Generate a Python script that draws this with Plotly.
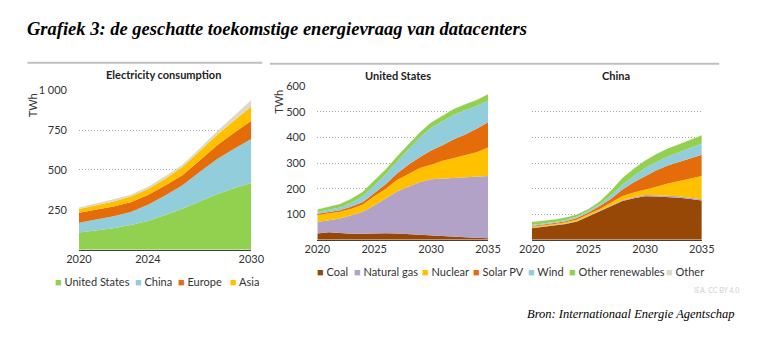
import plotly.graph_objects as go

W, H = 766, 343

# ---------------- data ----------------
left_years = list(range(2020, 2031))
left_series = ["United States", "China", "Europe", "Asia", "Other"]
left_us = [108, 120, 135, 155, 180, 218, 257, 302, 347, 385, 418]
left_china = [61, 68, 75, 82, 102, 122, 147, 185, 220, 248, 276]
left_europe = [62, 62, 61, 61, 61, 62, 63, 72, 86, 100, 114]
left_asia = [24, 28, 31, 35, 37, 43, 51, 58, 67, 77, 90]
left_other = [10, 12, 14, 12, 14, 15, 15, 18, 21, 30, 41]

years = list(range(2020, 2036))
sources = ["Coal", "Natural gas", "Nuclear", "Solar PV", "Wind", "Other renewables", "Other"]
us_coal = [25, 30, 27, 24, 24, 26, 26, 25, 22, 19, 18, 16, 13, 10, 8, 6]
us_gas = [45, 47, 56, 72, 86, 108, 134, 164, 186, 206, 219, 224, 229, 234, 239, 244]
us_nuclear = [27, 27, 27, 26, 28, 36, 39, 45, 51, 56, 57, 69, 78, 87, 95, 111]
us_solar = [5, 5, 6, 8, 10, 12, 18, 25, 35, 42, 55, 61, 73, 81, 92, 99]
us_wind = [7, 8, 10, 15, 22, 30, 38, 47, 61, 77, 89, 93, 96, 96, 89, 84]
us_otherren = [10, 12, 14, 16, 18, 20, 20, 20, 20, 20, 21, 21, 22, 22, 24, 25]
us_other = [1, 1, 1, 1, 1, 1, 1, 1, 1, 1, 1, 1, 1, 1, 1, 1]

cn_coal = [45, 50, 56, 62, 72, 92, 110, 132, 152, 163, 170, 169, 167, 165, 160, 154]
cn_gas = [2, 2, 2, 2, 2, 2, 3, 3, 3, 4, 5, 5, 5, 5, 5, 5]
cn_nuclear = [4, 4, 4, 5, 6, 7, 8, 11, 16, 18, 20, 34, 48, 60, 75, 91]
cn_solar = [3, 3, 4, 4, 5, 6, 11, 15, 26, 40, 55, 64, 71, 76, 80, 83]
cn_wind = [4, 4, 4, 5, 6, 7, 8, 13, 19, 25, 31, 32, 35, 36, 41, 44]
cn_otherren = [12, 11, 10, 9, 8, 7, 10, 19, 26, 28, 29, 32, 31, 32, 32, 32]
cn_other = [1, 1, 1, 1, 1, 1, 1, 1, 1, 1, 1, 1, 1, 1, 1, 1]

left_ticks_x = [2020, 2024, 2030]
left_ticks_y = [250, 500, 750, 1000]
left_ticktext_y = ["250", "500", "750", "1 000"]
right_ticks_x = [2020, 2025, 2030, 2035]
right_ticks_y = [100, 200, 300, 400, 500, 600]

# ---------------- styles ----------------
left_colors = ["#92D050", "#92CDDC", "#E46C0A", "#FFC000", "#DDD9C4"]
src_colors = ["#974806", "#B3A2C7", "#FFC000", "#E46C0A", "#92CDDC", "#92D050", "#DDD9C4"]
FONT = "Lato"
TXT = "#333333"


def px(x):
    return x / W


def py(y):
    return 1 - y / H


fig = go.Figure()

for name, vals, col in zip(left_series, [left_us, left_china, left_europe, left_asia, left_other], left_colors):
    fig.add_trace(go.Scatter(x=left_years, y=vals, name=name, mode="lines", stackgroup="left",
                             line=dict(width=0, color=col), fillcolor=col, showlegend=False,
                             xaxis="x", yaxis="y"))

for name, vals, col in zip(sources, [us_coal, us_gas, us_nuclear, us_solar, us_wind, us_otherren, us_other], src_colors):
    fig.add_trace(go.Scatter(x=years, y=vals, name=name, mode="lines", stackgroup="us",
                             line=dict(width=0, color=col), fillcolor=col, showlegend=False,
                             xaxis="x2", yaxis="y2"))

for name, vals, col in zip(sources, [cn_coal, cn_gas, cn_nuclear, cn_solar, cn_wind, cn_otherren, cn_other], src_colors):
    fig.add_trace(go.Scatter(x=years, y=vals, name=name, mode="lines", stackgroup="cn",
                             line=dict(width=0, color=col), fillcolor=col, showlegend=False,
                             xaxis="x3", yaxis="y3"))

tickfont = dict(family=FONT, size=11, color=TXT)
xcommon = dict(showgrid=False, zeroline=False, showline=True, linecolor="#404040", linewidth=1,
               ticks="", tickfont=tickfont, ticklabelstandoff=-1)
ycommon = dict(showgrid=True, gridcolor="#a6a6a6", griddash="1px,2px", gridwidth=1, zeroline=False,
               showline=False, ticks="", tickfont=tickfont, ticklabelstandoff=11)

fig.update_layout(
    width=W, height=H, margin=dict(l=0, r=0, t=0, b=0),
    paper_bgcolor="white", plot_bgcolor="white", showlegend=False,
    xaxis=dict(xcommon, domain=[px(68.3), px(246.7)], range=[2020, 2030], tickvals=left_ticks_x, anchor="y"),
    yaxis=dict(ycommon, domain=[py(247.7), py(85)], range=[0, 1000], tickvals=left_ticks_y,
               ticktext=left_ticktext_y, anchor="x"),
    xaxis2=dict(xcommon, domain=[px(315), px(491.7)], range=[2020, 2035], tickvals=right_ticks_x, anchor="y2"),
    yaxis2=dict(ycommon, domain=[py(237.7), py(81)], range=[0, 600], tickvals=right_ticks_y, anchor="x2"),
    xaxis3=dict(xcommon, domain=[px(537), px(713)], range=[2020, 2035], tickvals=right_ticks_x, anchor="y3"),
    yaxis3=dict(ycommon, domain=[py(237.7), py(81)], range=[0, 600], tickvals=right_ticks_y,
                showticklabels=False, anchor="x3"),
)

shapes = [
    dict(type="line", xref="paper", yref="paper", x0=px(15), x1=px(258), y0=py(57), y1=py(57),
         line=dict(color="#bfbfbf", width=2)),
    dict(type="line", xref="paper", yref="paper", x0=px(266), x1=px(731), y0=py(58), y1=py(58),
         line=dict(color="#bfbfbf", width=2)),
]
fig.update_layout(shapes=shapes)

ann = []


def add_text(x, y, text, size=11, color=TXT, family=FONT, xanchor="center", angle=0, weight="normal", style="normal"):
    ann.append(dict(x=px(x), y=py(y), xref="paper", yref="paper", text=text, showarrow=False,
                    xanchor=xanchor, yanchor="middle", textangle=angle,
                    font=dict(family=family, size=size, color=color, weight=weight, style=style)))


add_text(12, 22, "Grafiek 3: de geschatte toekomstige energievraag van datacenters", size=18.5,
         color="black", family="Liberation Serif", xanchor="left", weight="bold", style="italic")
add_text(156, 69, "Electricity consumption", size=11, color="#222", weight="bold")
add_text(399, 70, "United States", size=11, color="#222", weight="bold")
add_text(624, 70, "China", size=11, color="#222", weight="bold")
add_text(21, 100, "TWh", size=11, angle=-90)
add_text(274, 97, "TWh", size=11, angle=-90)

left_leg_x = [41, 124, 169, 223]
for name, col, x in zip(left_series[:4], left_colors[:4], left_leg_x):
    add_text(x, 280, f"<span style='color:{col}'>■</span> {name}", size=11, xanchor="left")

right_leg_x = [313, 351, 421, 474, 531, 573, 674]
for name, col, x in zip(sources, src_colors, right_leg_x):
    add_text(x, 270, f"<span style='color:{col}'>■</span> {name}", size=11, xanchor="left")

add_text(703, 289, "IEA. CC BY 4.0", size=7, color="#d0d0d0", xanchor="left")
add_text(749, 313, "Bron: Internationaal Energie Agentschap", size=12.5, color="black",
         family="Liberation Serif", xanchor="right", style="italic")

fig.update_layout(annotations=ann)
fig.write_html("out.html")
